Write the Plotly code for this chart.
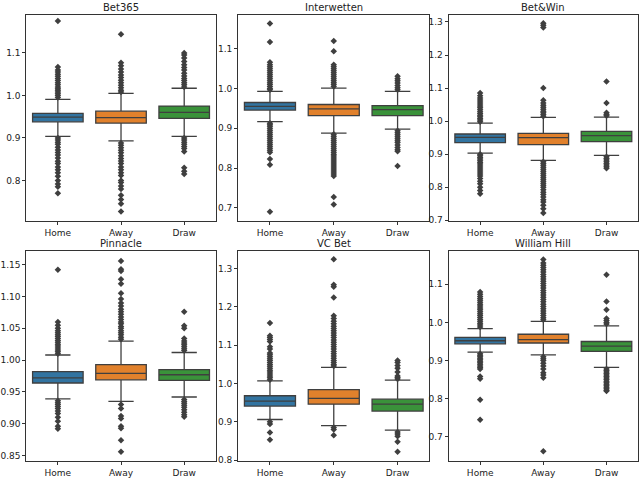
import plotly.graph_objects as go

# six bookmakers, three outcomes each; box stats
BOOKMAKERS = ["Bet365", "Interwetten", "Bet&Win", "Pinnacle", "VC Bet", "William Hill"]
OUTCOMES = ["Home", "Away", "Draw"]
COLORS = ["#3274a1", "#e1812c", "#3a923a"]

Q1 = [
    [0.938, 0.935, 0.946],
    [0.946, 0.932, 0.932],
    [0.935, 0.929, 0.938],
    [0.964, 0.969, 0.968],
    [0.941, 0.946, 0.928],
    [0.944, 0.946, 0.924],
]
MEDIAN = [
    [0.949, 0.948, 0.960],
    [0.955, 0.949, 0.947],
    [0.951, 0.950, 0.956],
    [0.972, 0.979, 0.977],
    [0.954, 0.961, 0.946],
    [0.952, 0.955, 0.938],
]
Q3 = [
    [0.958, 0.963, 0.975],
    [0.965, 0.960, 0.957],
    [0.961, 0.963, 0.969],
    [0.982, 0.993, 0.985],
    [0.968, 0.984, 0.959],
    [0.961, 0.969, 0.950],
]
LOWER = [
    [0.904, 0.893, 0.904],
    [0.917, 0.888, 0.898],
    [0.903, 0.881, 0.896],
    [0.939, 0.935, 0.942],
    [0.906, 0.890, 0.878],
    [0.922, 0.915, 0.882],
]
UPPER = [
    [0.991, 1.005, 1.017],
    [0.993, 1.001, 0.993],
    [0.994, 1.011, 1.012],
    [1.008, 1.030, 1.012],
    [1.007, 1.042, 1.009],
    [0.984, 1.003, 0.991],
]

# outlier points per bookmaker: [home, away, draw]
OUT_BET365 = [
    [0.995, 1.0, 1.004, 1.008, 1.012, 1.016, 1.02, 1.025, 1.03, 1.035, 1.04, 1.045, 1.05, 1.055, 1.06, 1.067, 1.175,
     0.9, 0.895, 0.89, 0.885, 0.878, 0.872, 0.866, 0.86, 0.853, 0.845, 0.84, 0.832, 0.825, 0.818, 0.81, 0.8, 0.792, 0.785, 0.77],
    [1.008, 1.012, 1.018, 1.024, 1.03, 1.036, 1.042, 1.048, 1.055, 1.062, 1.07, 1.077, 1.144,
     0.888, 0.883, 0.877, 0.871, 0.865, 0.858, 0.852, 0.846, 0.84, 0.832, 0.825, 0.818, 0.812, 0.8, 0.795, 0.787, 0.78,
     0.765, 0.755, 0.745, 0.727],
    [1.02, 1.025, 1.03, 1.035, 1.04, 1.046, 1.052, 1.06, 1.066, 1.072, 1.08, 1.088, 1.095, 1.1,
     0.9, 0.895, 0.89, 0.885, 0.88, 0.875, 0.868, 0.83, 0.822, 0.815],
]
OUT_INTERWETTEN = [
    [0.997, 1.0, 1.005, 1.01, 1.015, 1.02, 1.025, 1.03, 1.035, 1.04, 1.045, 1.05, 1.055, 1.06, 1.066, 1.117, 1.164,
     0.913, 0.909, 0.905, 0.9, 0.895, 0.89, 0.885, 0.88, 0.875, 0.87, 0.865, 0.86, 0.855, 0.85, 0.845, 0.84, 0.823, 0.808, 0.69],
    [1.005, 1.01, 1.015, 1.02, 1.025, 1.03, 1.035, 1.04, 1.045, 1.05, 1.055, 1.06, 1.094, 1.12,
     0.885, 0.88, 0.875, 0.87, 0.865, 0.86, 0.855, 0.85, 0.845, 0.84, 0.835, 0.83, 0.825, 0.82, 0.815, 0.81, 0.805,
     0.8, 0.795, 0.79, 0.785, 0.78, 0.727, 0.708],
    [0.997, 1.002, 1.008, 1.014, 1.02, 1.025, 1.031,
     0.894, 0.889, 0.884, 0.879, 0.874, 0.869, 0.864, 0.858, 0.852, 0.846, 0.842, 0.805],
]
OUT_BETWIN = [
    [0.998, 1.003, 1.008, 1.013, 1.018, 1.023, 1.028, 1.034, 1.04, 1.046, 1.052, 1.058, 1.064, 1.07, 1.077, 1.085,
     0.9, 0.895, 0.89, 0.885, 0.88, 0.875, 0.87, 0.864, 0.858, 0.852, 0.846, 0.84, 0.834, 0.826, 0.818, 0.81, 0.8, 0.79, 0.78],
    [1.015, 1.02, 1.025, 1.03, 1.036, 1.042, 1.048, 1.055, 1.063, 1.1, 1.283, 1.29, 1.296,
     0.877, 0.872, 0.866, 0.86, 0.854, 0.848, 0.842, 0.836, 0.83, 0.824, 0.818, 0.812, 0.806, 0.8, 0.792, 0.785,
     0.778, 0.77, 0.762, 0.755, 0.745, 0.735, 0.722],
    [1.016, 1.02, 1.025, 1.055, 1.12,
     0.892, 0.887, 0.882, 0.877, 0.872, 0.867, 0.862, 0.857],
]
OUT_PINNACLE = [
    [1.01, 1.013, 1.016, 1.019, 1.022, 1.025, 1.028, 1.031, 1.034, 1.037, 1.04, 1.043, 1.046, 1.05, 1.055, 1.06, 1.142,
     0.936, 0.933, 0.93, 0.927, 0.924, 0.92, 0.916, 0.91, 0.904, 0.896, 0.892],
    [1.033, 1.036, 1.04, 1.043, 1.046, 1.05, 1.053, 1.057, 1.06, 1.064, 1.068, 1.072, 1.076, 1.08, 1.085, 1.09,
     1.096, 1.105, 1.12, 1.127, 1.14, 1.143, 1.156,
     0.93, 0.924, 0.912, 0.908, 0.896, 0.893, 0.874, 0.856],
    [1.015, 1.018, 1.021, 1.024, 1.027, 1.03, 1.034, 1.05, 1.054, 1.076,
     0.938, 0.935, 0.932, 0.929, 0.926, 0.922, 0.918, 0.914, 0.911],
]
OUT_VCBET = [
    [1.01, 1.015, 1.02, 1.025, 1.03, 1.035, 1.04, 1.045, 1.05, 1.055, 1.06, 1.065, 1.07, 1.075, 1.08, 1.09, 1.096,
     1.11, 1.115, 1.12, 1.125, 1.158,
     0.9, 0.894, 0.872, 0.853],
    [1.046, 1.05, 1.055, 1.06, 1.066, 1.072, 1.078, 1.084, 1.09, 1.096, 1.102, 1.108, 1.114, 1.12, 1.126, 1.132,
     1.138, 1.144, 1.15, 1.156, 1.163, 1.17, 1.177, 1.225, 1.253, 1.258, 1.325,
     0.885, 0.88, 0.865],
    [1.012, 1.016, 1.02, 1.03, 1.04, 1.047, 1.055, 1.06,
     0.873, 0.868, 0.862, 0.848, 0.822],
]
OUT_WILLIAMHILL = [
    [0.988, 0.993, 0.998, 1.003, 1.008, 1.013, 1.018, 1.023, 1.028, 1.033, 1.038, 1.043, 1.048, 1.053, 1.058,
     1.063, 1.068, 1.074, 1.08,
     0.918, 0.914, 0.91, 0.906, 0.902, 0.898, 0.894, 0.89, 0.886, 0.882, 0.878, 0.858, 0.852, 0.797, 0.745],
    [1.007, 1.012, 1.018, 1.024, 1.03, 1.036, 1.042, 1.048, 1.054, 1.06, 1.066, 1.072, 1.078, 1.084, 1.09, 1.096,
     1.102, 1.108, 1.114, 1.12, 1.126, 1.132, 1.138, 1.144, 1.15, 1.156, 1.165,
     0.91, 0.905, 0.9, 0.893, 0.886, 0.878, 0.868, 0.862, 0.855, 0.662],
    [0.996, 1.0, 1.005, 1.01, 1.033, 1.055, 1.125,
     0.878, 0.874, 0.87, 0.866, 0.862, 0.858, 0.854, 0.85, 0.846, 0.842, 0.838, 0.834, 0.83, 0.826, 0.822, 0.82],
]
OUTLIERS = [OUT_BET365, OUT_INTERWETTEN, OUT_BETWIN, OUT_PINNACLE, OUT_VCBET, OUT_WILLIAMHILL]

Y_RANGES = [[0.705, 1.19], [0.667, 1.186], [0.698, 1.322], [0.841, 1.172], [0.797, 1.347], [0.636, 1.188]]
Y_DTICK = [0.1, 0.1, 0.1, 0.05, 0.1, 0.1]

# panel placement in paper coords (pixel positions from the reference / 640x478)
X_DOMAINS = [[0.035, 0.333], [0.368, 0.669], [0.699, 0.997]]
Y_DOMAINS = [[0.534, 0.969], [0.027, 0.471]]

EDGE = "#3f3f3f"
AXIS = "#333333"

fig = go.Figure()

for i, book in enumerate(BOOKMAKERS):
    row, col = divmod(i, 3)
    n = "" if i == 0 else str(i + 1)
    xref, yref = "x" + n, "y" + n
    for j, outcome in enumerate(OUTCOMES):
        fig.add_trace(go.Box(
            x=[outcome], q1=[Q1[i][j]], median=[MEDIAN[i][j]], q3=[Q3[i][j]],
            lowerfence=[LOWER[i][j]], upperfence=[UPPER[i][j]],
            boxpoints=False, width=0.8, whiskerwidth=0.5,
            fillcolor=COLORS[j], line=dict(color=EDGE, width=1.3),
            xaxis=xref, yaxis=yref, showlegend=False, hoverinfo="skip",
        ))
        pts = OUTLIERS[i][j]
        fig.add_trace(go.Scatter(
            x=[outcome] * len(pts), y=pts, mode="markers",
            marker=dict(symbol="diamond", size=5, color=EDGE, line=dict(width=0)),
            xaxis=xref, yaxis=yref, showlegend=False, hoverinfo="skip",
        ))

    ax = dict(
        domain=X_DOMAINS[col], anchor=yref, type="category",
        categoryorder="array", categoryarray=OUTCOMES, range=[-0.5, 2.5],
        showline=True, mirror=True, linecolor=AXIS, linewidth=1,
        ticks="outside", ticklen=3, tickcolor=AXIS, showgrid=False,
        tickfont=dict(size=9, color="#222"),
    )
    ay = dict(
        domain=Y_DOMAINS[row], anchor=xref, range=Y_RANGES[i],
        dtick=Y_DTICK[i], tickformat=".2f" if Y_DTICK[i] < 0.1 else ".1f",
        showline=True, mirror=True, linecolor=AXIS, linewidth=1,
        ticks="outside", ticklen=3, tickcolor=AXIS, showgrid=False, zeroline=False,
        tickfont=dict(size=9, color="#222"),
    )
    fig.layout["xaxis" + n] = ax
    fig.layout["yaxis" + n] = ay

    fig.add_annotation(
        text=book, xref="paper", yref="paper",
        x=sum(X_DOMAINS[col]) / 2, y=Y_DOMAINS[row][1],
        xanchor="center", yanchor="bottom", yshift=0,
        showarrow=False, font=dict(size=10, color="#222"),
    )

fig.update_layout(
    width=640, height=478,
    margin=dict(l=0, r=0, t=0, b=0),
    paper_bgcolor="white", plot_bgcolor="white",
    font=dict(family="DejaVu Sans, sans-serif"),
    boxmode="overlay",
)

# page body has a default 8px margin which shifts the figure; drop it
fig.write_html("out.html", config={"displayModeBar": False},
               post_script="document.body.style.margin='0';")
